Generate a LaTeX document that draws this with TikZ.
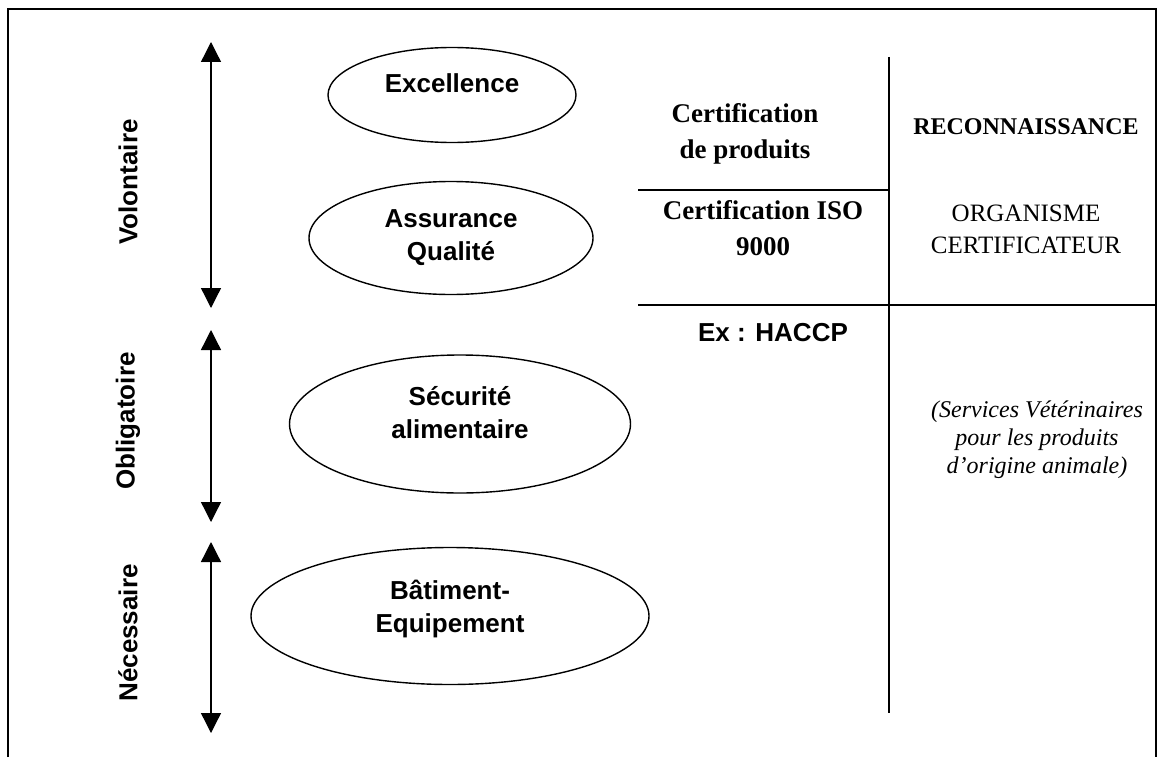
\documentclass[tikz,border=0pt]{standalone}
\usepackage{fontspec}
\setmainfont{Liberation Serif}
\setsansfont{Liberation Sans}
\usetikzlibrary{shapes.geometric,arrows.meta}

\begin{document}
\begin{tikzpicture}[x=1pt,y=-1pt,
  bulle/.style={draw,ellipse,line width=1.4pt,inner sep=0pt,align=center,
    font=\sffamily\bfseries\fontsize{26}{33}\selectfont},
  niveau/.style={rotate=90,font=\sffamily\bfseries\fontsize{26}{30}\selectfont},
  fleche/.style={line width=1.3pt,
    {Triangle[width=20pt,length=20pt]}-{Triangle[width=20pt,length=20pt]}},
  cadre/.style={line width=1.6pt},
  serif/.style={align=center,font=\fontsize{24}{31}\selectfont},
  titre/.style={align=center,font=\bfseries\fontsize{27}{36}\selectfont}]
  \useasboundingbox (0,0) rectangle (1166,757);

  \coordinate (bg) at (8,757);
  \coordinate (hg) at (8,9);
  \coordinate (hd) at (1156,9);
  \coordinate (bd) at (1156,757);
  \draw[cadre] (bg) -- (hg) -- (hd) -- (bd);

  \coordinate (vol1) at (211,42);
  \coordinate (vol2) at (211,308);
  \coordinate (obl1) at (211,330);
  \coordinate (obl2) at (211,522);
  \coordinate (nec1) at (211,542);
  \coordinate (nec2) at (211,733);
  \draw[fleche] (vol1) -- (vol2);
  \draw[fleche] (obl1) -- (obl2);
  \draw[fleche] (nec1) -- (nec2);

  \node[niveau] (volontaire) at (128,182) {Volontaire};
  \node[niveau] (obligatoire) at (128,421) {Obligatoire};
  \node[niveau] (necessaire) at (128,633) {Nécessaire};

  \node[bulle,minimum width=248,minimum height=95,text depth=24pt] (excellence) at (452,95) {Excellence};
  \node[bulle,minimum width=284,minimum height=113] (assurance) at (451,238) {Assurance\\Qualité};
  \node[bulle,minimum width=341,minimum height=138,text depth=24pt] (securite) at (460,424) {Sécurité\\alimentaire};
  \node[bulle,minimum width=398,minimum height=137,text depth=20pt] (batiment) at (450,616) {Bâtiment-\\Equipement};

  \coordinate (mil1) at (889,57);
  \coordinate (mil2) at (889,713);
  \coordinate (cp1) at (638,190);
  \coordinate (cp2) at (889,190);
  \coordinate (iso1) at (638,305);
  \coordinate (iso2) at (1156,305);
  \draw[cadre] (mil1) -- (mil2);
  \draw[cadre] (cp1) -- (cp2);
  \draw[cadre] (iso1) -- (iso2);

  \node[titre] (produits) at (745,134) {Certification\\de produits};
  \node[serif,font=\bfseries\fontsize{24}{31}\selectfont] (reconnaissance) at (1026,127) {RECONNAISSANCE};
  \node[titre] (iso) at (763,228) {Certification ISO\\9000};
  \node[serif,font=\fontsize{25}{32}\selectfont] (organisme) at (1026,229) {ORGANISME\\CERTIFICATEUR};
  \node[font=\sffamily\bfseries\fontsize{26}{30}\selectfont] (haccp) at (773,333) {Ex : HACCP};
  \node[serif,font=\itshape\fontsize{24}{28}\selectfont] (services) at (1037,440) {(Services Vétérinaires\\pour les produits\\d’origine animale)};
\end{tikzpicture}
\end{document}
